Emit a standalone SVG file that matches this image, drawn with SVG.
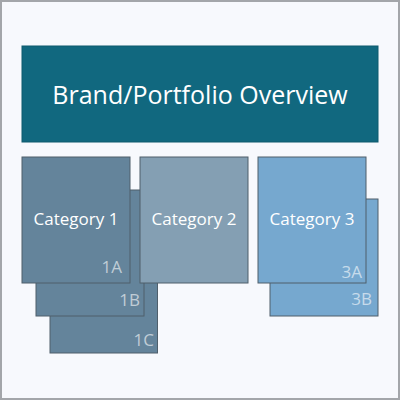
<svg xmlns="http://www.w3.org/2000/svg" width="400" height="400" viewBox="0 0 400 400">
  <style>
    .box { stroke: #4f5f6b; stroke-width: 1; }
    .c1 { fill: #64849b; }
    .c2 { fill: #849fb3; }
    .c3 { fill: #76a8cf; }
    .title { font-family: "Open Sans", "Liberation Sans", sans-serif; font-size: 25px; fill: #ffffff; text-anchor: middle; }
    .cat { font-family: "Open Sans", "Liberation Sans", sans-serif; font-size: 17px; fill: #ffffff; text-anchor: middle; }
    .sub { font-family: "Open Sans", "Liberation Sans", sans-serif; font-size: 17px; fill: #ffffff; fill-opacity: 0.6; text-anchor: end; }
  </style>
  <rect x="1" y="1" width="398" height="398" fill="#f7f9fd" stroke="#a3a6aa" stroke-width="2"/>
  <g id="banner">
    <rect x="22" y="46" width="356" height="96" fill="#11687f" stroke="#0f5a6e" stroke-width="1"/>
    <text class="title" x="200" y="104">Brand/Portfolio Overview</text>
  </g>
  <g id="sub-1C">
    <rect class="box c1" x="50" y="227" width="107.5" height="126"/>
    <text class="sub" x="154" y="346">1C</text>
  </g>
  <g id="sub-1B">
    <rect class="box c1" x="36" y="190" width="108" height="126"/>
    <text class="sub" x="140" y="306">1B</text>
  </g>
  <g id="category-1">
    <rect class="box c1" x="22" y="157" width="108" height="126"/>
    <text class="cat" x="76" y="225">Category 1</text>
    <text class="sub" x="122" y="273">1A</text>
  </g>
  <g id="category-2">
    <rect class="box c2" x="140" y="157" width="108" height="126"/>
    <text class="cat" x="194" y="225">Category 2</text>
  </g>
  <g id="sub-3B">
    <rect class="box c3" x="270" y="199" width="108" height="117"/>
    <text class="sub" x="372" y="305">3B</text>
  </g>
  <g id="category-3">
    <rect class="box c3" x="258" y="157" width="108" height="126"/>
    <text class="cat" x="312" y="225">Category 3</text>
    <text class="sub" x="362" y="278">3A</text>
  </g>
  <g id="connectors"></g>
</svg>
